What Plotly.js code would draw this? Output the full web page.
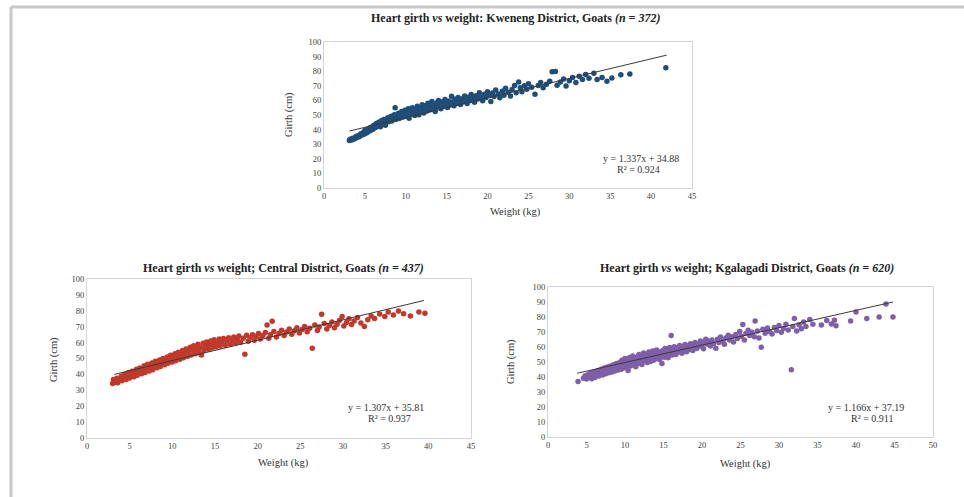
<!DOCTYPE html>
<html>
<head>
<meta charset="utf-8">
<script src="https://cdn.plot.ly/plotly-3.0.1.min.js"></script>
<style>html,body{margin:0;padding:0;background:#fff;}#chart{width:964px;height:497px;}</style>
</head>
<body>
<div id="chart"></div>
<script>
// ---------- Kweneng District (n = 372) ----------
const kwWeight = [3.1,3.2,3.4,3.5,3.7,3.9,4.0,4.2,4.3,4.5,4.6,4.8,4.9,5.0,5.2,5.3,5.4,5.6,5.7,5.9,6.0,6.1,6.3,6.4,6.5,6.7,6.8,6.9,7.0,7.1,7.3,7.4,7.5,7.7,7.8,7.9,8.1,8.2,8.3,8.5,8.6,8.7,8.8,9.0,9.1,9.2,9.4,9.5,9.6,9.8,9.9,10.0,10.2,10.3,10.4,10.6,10.7,10.8,11.0,11.1,11.2,11.4,11.5,11.6,11.8,11.9,12.0,12.2,12.3,12.4,12.6,12.7,12.8,13.0,13.1,13.2,13.4,13.5,13.6,13.8,13.9,14.0,14.2,14.3,14.5,14.6,14.8,14.9,15.1,15.3,15.4,15.6,15.7,15.9,16.0,16.2,16.4,16.5,16.7,16.9,17.0,17.2,17.4,17.5,17.7,17.9,18.0,18.2,18.4,18.6,18.8,19.0,19.2,19.4,19.6,19.8,20.0,20.2,20.4,20.6,20.8,21.0,21.3,21.5,21.8,22.0,22.2,22.5,22.8,23.0,23.3,23.5,23.8,24.0,24.2,24.5,24.8,25.0,25.4,25.8,26.2,26.5,26.8,27.2,27.6,27.9,28.3,28.5,28.9,29.3,29.6,30.0,30.4,30.8,31.2,31.6,32.0,32.4,33.0,33.4,34.0,34.6,35.2,36.3,37.4,41.8];
const kwGirth  = [32.6,33.4,32.9,34.0,33.6,35.2,34.4,36.0,35.1,37.2,36.2,38.0,36.8,39.3,37.6,40.1,38.5,41.2,39.4,42.0,40.3,43.0,41.4,44.2,42.3,45.0,43.1,41.9,46.0,44.0,47.0,44.8,42.9,46.2,48.1,45.3,47.4,49.2,45.9,48.3,50.1,55.0,46.9,49.4,51.2,47.6,50.3,52.4,48.4,51.1,53.3,49.2,52.0,54.2,47.8,50.6,53.0,55.0,51.5,49.6,54.0,56.0,52.3,50.2,55.0,53.2,57.0,51.4,54.6,56.4,52.8,58.0,55.4,53.6,57.2,59.2,54.6,56.3,52.4,58.4,55.6,60.0,57.0,54.2,59.0,56.2,60.6,57.8,55.2,59.6,57.0,62.8,58.6,56.4,60.8,58.0,62.0,59.4,57.2,61.2,59.0,63.0,60.2,57.8,62.2,60.0,64.0,61.4,58.8,63.2,61.0,65.2,62.4,59.8,64.2,62.0,66.0,63.4,59.2,65.0,62.6,67.2,64.4,61.8,66.2,63.6,68.4,65.6,63.0,67.4,70.2,65.2,72.6,68.6,66.0,70.0,67.6,71.4,69.0,64.2,70.2,72.2,68.6,71.0,73.2,79.6,79.8,70.4,72.6,74.6,69.8,73.4,75.6,72.2,76.6,74.4,77.8,75.2,78.6,74.4,75.6,73.2,75.4,77.6,78.0,82.4];
const kwTrendX = [3.1, 41.9];
const kwTrendY = [39.0, 91.0];

// ---------- Central District (n = 437) ----------
const ceWeight = [3.0,3.1,3.3,3.5,3.6,3.8,4.0,4.1,4.3,4.4,4.6,4.7,4.9,5.0,5.2,5.3,5.5,5.6,5.8,5.9,6.1,6.2,6.4,6.5,6.7,6.8,7.0,7.1,7.3,7.4,7.6,7.7,7.9,8.0,8.2,8.3,8.5,8.6,8.8,8.9,9.1,9.2,9.4,9.5,9.7,9.8,10.0,10.1,10.3,10.4,10.6,10.7,10.9,11.0,11.2,11.3,11.5,11.6,11.8,11.9,12.1,12.2,12.4,12.5,12.7,12.8,13.0,13.1,13.3,13.4,13.6,13.7,13.9,14.0,14.2,14.3,14.5,14.6,14.8,14.9,15.1,15.3,15.5,15.6,15.8,16.0,16.2,16.4,16.6,16.8,17.0,17.2,17.4,17.6,17.8,18.0,18.3,18.5,18.7,18.9,19.1,19.4,19.6,19.8,20.1,20.3,20.6,20.9,21.1,21.3,21.5,21.7,21.9,22.2,22.5,22.8,23.1,23.4,23.7,24.0,24.3,24.6,24.9,25.2,25.5,25.8,26.1,26.4,26.7,27.0,27.2,27.5,27.8,28.1,28.4,28.7,29.0,29.3,29.6,29.9,30.1,30.4,30.7,31.0,31.3,31.7,32.1,32.5,32.9,33.3,33.7,34.3,34.9,35.3,35.9,36.5,37.1,37.9,38.9,39.6];
const ceGirth  = [34.2,36.8,35.0,37.6,34.8,36.4,38.8,36.0,37.4,40.0,36.8,38.6,41.2,37.8,39.6,42.0,38.6,40.8,43.2,39.4,41.6,44.0,40.4,42.8,45.4,41.2,43.6,46.4,42.2,44.6,47.2,43.0,45.6,48.2,44.2,46.6,49.0,45.0,47.4,50.0,46.0,48.6,51.0,47.0,49.4,52.0,47.8,50.4,53.0,48.6,51.4,54.0,49.6,52.4,55.0,50.4,53.2,56.0,51.4,54.2,57.0,52.2,55.2,58.0,53.0,56.0,59.0,53.8,56.8,52.2,59.6,55.0,57.6,60.4,55.8,58.4,61.0,56.6,59.0,61.8,57.2,59.8,62.2,57.8,60.4,62.6,58.4,61.0,63.0,59.0,61.6,63.6,59.6,62.2,64.2,60.2,62.8,52.6,64.6,60.8,63.2,65.0,61.4,63.8,65.8,62.2,64.4,66.4,71.0,62.8,65.0,73.4,67.0,63.6,65.8,67.8,64.4,66.6,68.6,65.2,67.4,69.4,66.0,68.2,70.2,66.8,69.0,56.4,71.0,67.6,69.8,77.8,72.0,68.6,70.8,73.0,69.4,71.6,74.0,76.4,70.4,72.6,75.0,71.4,73.6,75.8,72.4,70.2,74.4,76.8,75.2,78.0,76.4,79.2,77.4,79.8,78.2,76.8,79.2,78.4];
const ceTrendX = [3.2, 39.5];
const ceTrendY = [40.0, 86.5];

// ---------- Kgalagadi District (n = 620) ----------
const kgWeight = [3.9,4.6,4.8,5.0,5.1,5.3,5.4,5.6,5.7,5.8,6.0,6.1,6.2,6.4,6.5,6.6,6.8,6.9,7.0,7.1,7.3,7.4,7.5,7.7,7.8,7.9,8.1,8.2,8.3,8.5,8.6,8.7,8.9,9.0,9.1,9.3,9.4,9.5,9.6,9.7,9.8,9.9,10.0,10.1,10.2,10.3,10.4,10.5,10.6,10.7,10.8,10.9,11.0,11.1,11.2,11.3,11.4,11.5,11.6,11.7,11.8,11.9,12.0,12.1,12.2,12.3,12.4,12.5,12.6,12.7,12.8,12.9,13.0,13.1,13.2,13.3,13.4,13.5,13.6,13.7,13.8,13.9,14.0,14.1,14.2,14.3,14.4,14.5,14.6,14.8,14.9,15.0,15.1,15.2,15.3,15.4,15.5,15.6,15.7,15.8,15.9,16.0,16.1,16.2,16.3,16.4,16.6,16.7,16.8,17.0,17.1,17.2,17.4,17.5,17.6,17.8,17.9,18.0,18.2,18.3,18.5,18.6,18.8,19.0,19.1,19.3,19.5,19.6,19.8,20.0,20.2,20.3,20.5,20.7,20.9,21.1,21.3,21.5,21.8,22.0,22.2,22.4,22.7,22.9,23.1,23.4,23.6,23.9,24.1,24.4,24.6,24.9,25.1,25.3,25.5,25.7,26.0,26.2,26.5,26.8,26.9,27.2,27.4,27.7,27.9,28.2,28.5,28.8,29.1,29.4,29.7,30.0,30.3,30.6,30.9,31.2,31.6,31.8,32.0,32.3,32.6,32.9,33.2,33.5,34.0,34.4,35.5,36.2,36.8,37.2,37.4,39.3,40.0,41.4,43.0,43.9,44.8];
const kgGirth  = [37.0,39.2,40.6,38.6,41.4,39.8,42.2,40.4,38.8,43.0,41.0,39.6,43.6,41.8,44.4,40.6,42.6,45.2,43.4,41.4,46.0,44.0,42.2,46.6,44.6,42.8,47.4,45.4,43.4,48.2,46.0,44.0,49.0,46.8,44.6,49.6,47.4,45.2,51.2,48.2,46.0,50.4,52.4,48.8,46.6,51.0,44.4,49.6,53.0,47.4,51.6,49.8,54.0,48.2,52.2,50.4,46.8,53.2,51.0,49.0,55.0,52.6,50.4,54.0,48.4,52.0,56.0,53.4,50.8,55.0,51.8,49.6,54.2,56.6,52.4,50.4,55.4,53.0,57.4,51.2,54.4,56.2,52.2,58.0,55.0,53.0,56.8,51.6,54.6,49.0,57.6,55.2,53.2,59.0,56.0,54.0,57.8,52.8,55.6,59.6,57.0,67.6,54.6,58.4,56.2,60.2,55.0,57.6,59.4,56.6,61.0,58.2,55.8,60.0,57.4,61.6,59.0,56.8,60.6,58.4,62.2,59.6,57.6,61.4,63.0,59.0,62.0,60.4,64.0,61.0,58.8,63.2,65.2,61.8,63.8,60.6,64.6,62.4,59.2,65.2,63.0,66.6,64.0,61.8,66.0,67.8,64.6,66.8,63.4,68.4,65.6,70.4,67.2,75.0,64.6,69.0,71.2,67.6,69.8,66.8,77.4,70.6,66.0,59.8,71.8,69.2,72.6,70.2,68.6,73.0,71.0,74.4,69.8,72.4,75.2,71.4,44.8,73.6,79.0,70.6,74.8,72.2,76.6,73.6,78.4,75.2,74.6,77.6,75.4,77.8,74.2,77.4,83.4,79.0,80.0,88.6,80.0];
const kgTrendX = [3.8, 44.8];
const kgTrendY = [42.5, 90.0];

// ---------- text ----------
const titles = [
  "Heart girth <i>vs</i> weight: Kweneng District, Goats <i>(n = 372)</i>",
  "Heart girth <i>vs</i> weight; Central District, Goats <i>(n = 437)</i>",
  "Heart girth <i>vs</i> weight; Kgalagadi District, Goats <i>(n = 620)</i>"
];
const equations = ["y = 1.337x + 34.88", "y = 1.307x + 35.81", "y = 1.166x + 37.19"];
const rSquared = ["R² = 0.924", "R² = 0.937", "R² = 0.911"];
const xLabel = "Weight (kg)";
const yLabel = "Girth (cm)";

const W = 964, H = 497;
const px = x => x / W;
const py = y => (H - y) / H;
const serif = "Liberation Serif, Times New Roman, serif";

function mk(xs, ys, color, xa, ya) {
  return {x: xs, y: ys, type: 'scatter', mode: 'markers', xaxis: xa, yaxis: ya,
    marker: {color: color, size: 5.5, line: {width: 0}}, hoverinfo: 'skip', showlegend: false};
}
function tr(xs, ys, xa, ya) {
  return {x: xs, y: ys, type: 'scatter', mode: 'lines', xaxis: xa, yaxis: ya,
    line: {color: '#3a3a3a', width: 1}, hoverinfo: 'skip', showlegend: false};
}

const data = [
  mk(kwWeight, kwGirth, '#1f4e79', 'x', 'y'), tr(kwTrendX, kwTrendY, 'x', 'y'),
  mk(ceWeight, ceGirth, '#c0392b', 'x2', 'y2'), tr(ceTrendX, ceTrendY, 'x2', 'y2'),
  mk(kgWeight, kgGirth, '#7e5fa8', 'x3', 'y3'), tr(kgTrendX, kgTrendY, 'x3', 'y3')
];

const tickFont = {family: serif, size: 8.5, color: '#404040'};
function xax(d0, d1, maxV, anchor) {
  return {domain: [px(d0), px(d1)], range: [0, maxV], dtick: 5, tick0: 0, anchor: anchor,
    showgrid: false, zeroline: false, showline: true, mirror: true, linecolor: '#d4d4d4', linewidth: 1,
    ticks: '', tickfont: tickFont, fixedrange: true};
}
function yax(d0, d1, anchor) {
  return {domain: [py(d0), py(d1)], range: [0, 100], dtick: 10, tick0: 0, anchor: anchor,
    showgrid: false, zeroline: false, showline: true, mirror: true, linecolor: '#d4d4d4', linewidth: 1,
    ticks: '', tickfont: tickFont, fixedrange: true};
}

function ann(text, x, y, size, opts) {
  return Object.assign({text: text, x: px(x), y: py(y), xref: 'paper', yref: 'paper',
    showarrow: false, xanchor: 'center', yanchor: 'middle',
    font: {family: serif, size: size, color: '#333'}}, opts || {});
}
const titleFont = {family: serif, size: 12, color: '#222'};

const annotations = [
  ann('<b>' + titles[0] + '</b>', 515, 18, 12, {font: titleFont}),
  ann('<b>' + titles[1] + '</b>', 283, 268, 12, {font: titleFont}),
  ann('<b>' + titles[2] + '</b>', 747, 268, 12, {font: titleFont}),
  ann(xLabel, 515, 212, 10.5), ann(xLabel, 283, 463, 10.5), ann(xLabel, 745, 464, 10.5),
  ann(yLabel, 289, 115, 10.5, {textangle: -90}), ann(yLabel, 54, 360, 10.5, {textangle: -90}), ann(yLabel, 511, 362, 10.5, {textangle: -90}),
  ann(equations[0], 681, 158, 10, {xanchor: 'right'}), ann(rSquared[0], 662, 169, 10, {xanchor: 'right'}),
  ann(equations[1], 426, 407, 10, {xanchor: 'right'}), ann(rSquared[1], 413, 418, 10, {xanchor: 'right'}),
  ann(equations[2], 906, 407, 10, {xanchor: 'right'}), ann(rSquared[2], 895, 418, 10, {xanchor: 'right'})
];

const layout = {
  width: W, height: H, margin: {l: 0, r: 0, t: 0, b: 0},
  paper_bgcolor: '#ffffff', plot_bgcolor: '#ffffff', showlegend: false,
  xaxis: xax(324, 692, 45, 'y'), yaxis: yax(188, 42, 'x'),
  xaxis2: xax(87, 471, 45, 'y2'), yaxis2: yax(438, 279, 'x2'),
  xaxis3: xax(548, 933, 50, 'y3'), yaxis3: yax(437, 287, 'x3'),
  annotations: annotations,
  shapes: [
    {type: 'line', xref: 'paper', yref: 'paper', x0: px(11), x1: 1, y0: py(7), y1: py(7), line: {color: '#c8c8c8', width: 3}},
    {type: 'line', xref: 'paper', yref: 'paper', x0: px(11), x1: px(11), y0: py(7), y1: 0, line: {color: '#c8c8c8', width: 3}}
  ]
};

Plotly.newPlot('chart', data, layout, {staticPlot: true, displayModeBar: false});
</script>
</body>
</html>
